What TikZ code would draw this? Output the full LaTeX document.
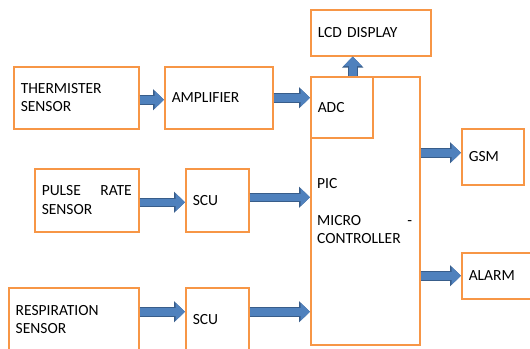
\documentclass[tikz,border=0pt]{standalone}
\usepackage{fontspec}
\setmainfont{Carlito}
\usetikzlibrary{arrows.meta}
\definecolor{boxorange}{HTML}{F79646}
\definecolor{flowblue}{HTML}{4F81BD}
\definecolor{flowedge}{HTML}{385D8A}
\tikzset{
  block/.style 2 args={draw=boxorange, line width=1.5pt, anchor=north west,
    inner xsep=7pt, inner ysep=0pt, align=left, text width=#1, minimum height=#2,
    font=\fontsize{15.5pt}{18.5pt}\selectfont},
  flow/.style={preaction={draw=flowedge, line width=9.5pt,
      -{Triangle[width=20.5pt,length=11pt]}},
    draw=flowblue, line width=7.5pt, -{Triangle[width=17.5pt,length=9.5pt]}}
}
\begin{document}
\begin{tikzpicture}[x=1pt,y=-1pt]
  \clip (0,0) rectangle (530,348);

  % sensors and their conditioning
  \node[block={111pt}{62pt}] (therm) at (13,66) {THERMISTER\\SENSOR};
  \node[block={94pt}{62pt}] (amp) at (164,66) {AMPLIFIER};
  \node[block={90pt}{63pt}] (pulse) at (34,168) {PULSE\hfill RATE\\SENSOR};
  \node[block={49pt}{63pt}] (scua) at (185,168) {SCU};
  \node[block={116pt}{64pt}] (resp) at (8,287) {RESPIRATION\\SENSOR};
  \node[block={49pt}{64pt}] (scub) at (185,287) {SCU};

  % controller with the ADC in its corner
  \node[block={95pt}{268pt}] (pic) at (310,76) {};
  \node[block={48pt}{61pt}] (adc) at (310,76) {ADC};
  \node[anchor=base west, align=left, text width=95pt, inner sep=0pt,
        font=\fontsize{15.5pt}{18.5pt}\selectfont] (pictext) at (317,188)
        {PIC\\[18.5pt]MICRO\hfill -\\CONTROLLER};

  % outputs
  \node[block={106pt}{46pt}] (lcd) at (310,9) {LCD DISPLAY};
  \node[block={48pt}{56pt}] (gsm) at (461,128) {GSM};
  \node[block={70pt}{46pt}] (alarm) at (461,252) {ALARM};

  % block arrows
  \draw[flow] ([yshift=-2pt]therm.east) -- ([yshift=-2pt]amp.west);
  \draw[flow] (amp.east) -- (amp.east -| adc.west);
  \draw[flow] ([yshift=-2pt]pulse.east) -- ([yshift=-2pt]scua.west);
  \draw[flow] ([yshift=3pt]scua.east) -- ([yshift=3pt]scua.east -| pic.west);
  \draw[flow] ([yshift=8pt]resp.east) -- ([yshift=8pt]scub.west);
  \draw[flow] ([yshift=8pt]scub.east) -- ([yshift=8pt]scub.east -| pic.west);
  \draw[flow] ([xshift=11pt]adc.north) -- ([xshift=11pt]adc.north |- lcd.south);
  \draw[flow] ([yshift=4pt]pic.east |- gsm.west) -- ([yshift=4pt]gsm.west);
  \draw[flow] (pic.east |- alarm.west) -- (alarm.west);
\end{tikzpicture}
\end{document}
